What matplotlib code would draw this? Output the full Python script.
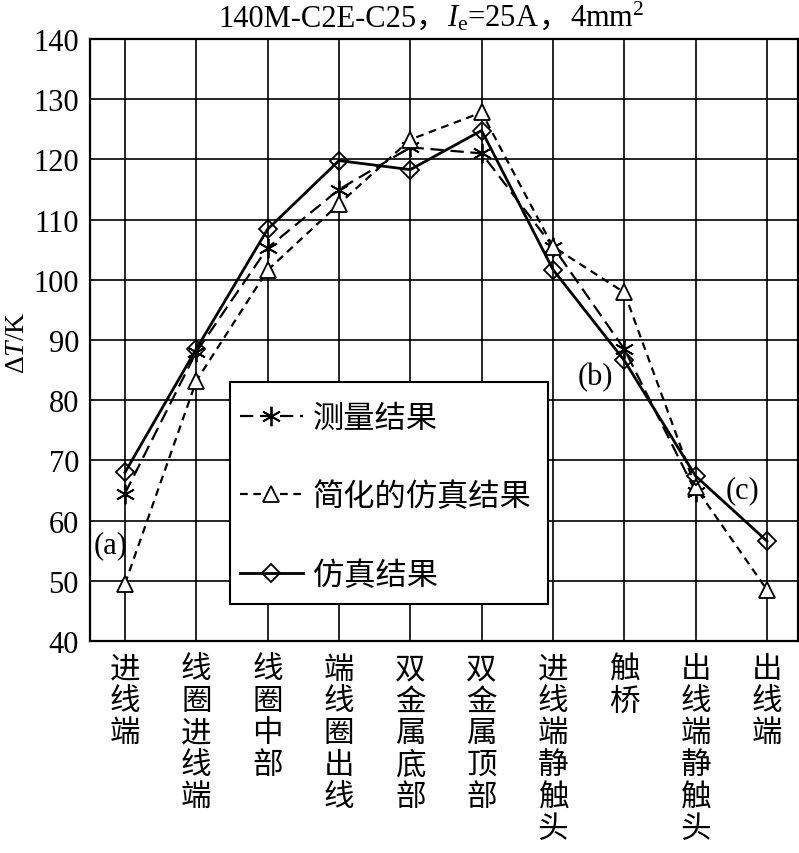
import numpy as np
import matplotlib
matplotlib.use("Agg")
import matplotlib.pyplot as plt
from matplotlib.patches import Rectangle
from matplotlib.offsetbox import TextArea, HPacker, AnchoredOffsetbox

plt.rcParams['font.family'] = ['Liberation Serif', 'Noto Sans CJK SC']
plt.rcParams['mathtext.fontset'] = 'custom'
plt.rcParams['mathtext.rm'] = 'Liberation Serif'
plt.rcParams['mathtext.it'] = 'Liberation Serif:italic'

# ==================== data ====================
categories = ["进线端", "线圈进线端", "线圈中部", "端线圈出线", "双金属底部",
              "双金属顶部", "进线端静触头", "触桥", "出线端静触头", "出线端"]
measured = [64.5, 88.0, 105.3, 115.0, 122.0, 121.0, 105.5, 88.5, 64.8, np.nan]
simplified = [49.5, 83.2, 101.6, 112.6, 123.3, 127.8, 105.5, 97.9, 65.5, 48.5]
simulated = [68.0, 88.5, 108.4, 119.8, 118.3, 124.8, 101.7, 86.6, 67.4, 56.6]
labels = ["测量结果", "简化的仿真结果", "仿真结果"]
notes = [("(a)", -0.2, 56.0), ("(b)", 6.6, 84.0), ("(c)", 8.65, 65.2)]

x = np.arange(len(categories))

fig = plt.figure(figsize=(7.99, 8.54), dpi=100)
ax = fig.add_axes([90 / 799, 212 / 854, 708 / 799, 602 / 854])

ax.plot(x, measured, color="black", lw=1.6, ls=(0, (6, 3)),
        marker=(6, 2, 0), ms=14, mew=1.3, label=labels[0])
ax.plot(x, simplified, color="black", lw=1.6, ls=(0, (3.5, 2.5)),
        marker="^", ms=12, mfc="white", mew=1.3, label=labels[1])
ax.plot(x, simulated, color="black", lw=2.0, ls="-",
        marker="D", ms=9, mfc="none", mew=1.3, label=labels[2])

ax.set_xlim(-0.49, 9.435)
ax.set_ylim(40, 140)
ax.set_yticks(np.arange(40, 141, 10))
ax.set_xticks(x)
ax.set_xticklabels(["\n".join(c) for c in categories],
                   fontfamily="Noto Sans CJK SC", fontsize=22, linespacing=1.04)
ax.tick_params(axis="x", length=0, pad=9)
ax.tick_params(axis="y", length=0, pad=8, labelsize=22)
ax.grid(True, color="black", lw=1.2)
ax.set_axisbelow(True)
for s in ax.spines.values():
    s.set_linewidth(1.6)

fig.text(17 / 799, 1 - 343 / 854, "Δ$T$/K", fontsize=20, rotation=90,
         ha="center", va="center")

for txt, xx, yy in notes:
    ax.text(xx, yy, txt, fontsize=22, ha="center", va="center")

# legend frame drawn separately so its padding can be uneven like the original
ax.add_patch(Rectangle((140 / 708, 37 / 602), 318 / 708, 222 / 602,
                       transform=ax.transAxes, facecolor="white",
                       edgecolor="black", lw=1.5, zorder=4.5))
leg = ax.legend(loc="upper left", bbox_to_anchor=(150 / 708, 239.5 / 602),
                frameon=False, prop={"family": "Noto Sans CJK SC", "size": 22.5},
                handlelength=2.0, handletextpad=0.33, labelspacing=1.5,
                borderpad=0, borderaxespad=0)

# title built from pieces so the full-width comma and math both render
fs = 22
parts = [
    TextArea("140M-C2E-C25，", textprops=dict(fontsize=fs, family=['Liberation Serif', 'Noto Sans CJK SC'])),
    TextArea(r"$I_{\mathrm{e}}$=25A", textprops=dict(fontsize=fs)),
    TextArea("，", textprops=dict(fontsize=fs, family=['Noto Sans CJK SC'])),
    TextArea(r"4mm$^2$", textprops=dict(fontsize=fs)),
]
box = HPacker(children=parts, align="baseline", pad=0, sep=0)
anch = AnchoredOffsetbox(loc="upper center", child=box, frameon=False,
                         bbox_to_anchor=(0.54, 1.0), bbox_transform=fig.transFigure,
                         pad=0, borderpad=0.2)
fig.add_artist(anch)

fig.savefig("out.png", dpi=100)
